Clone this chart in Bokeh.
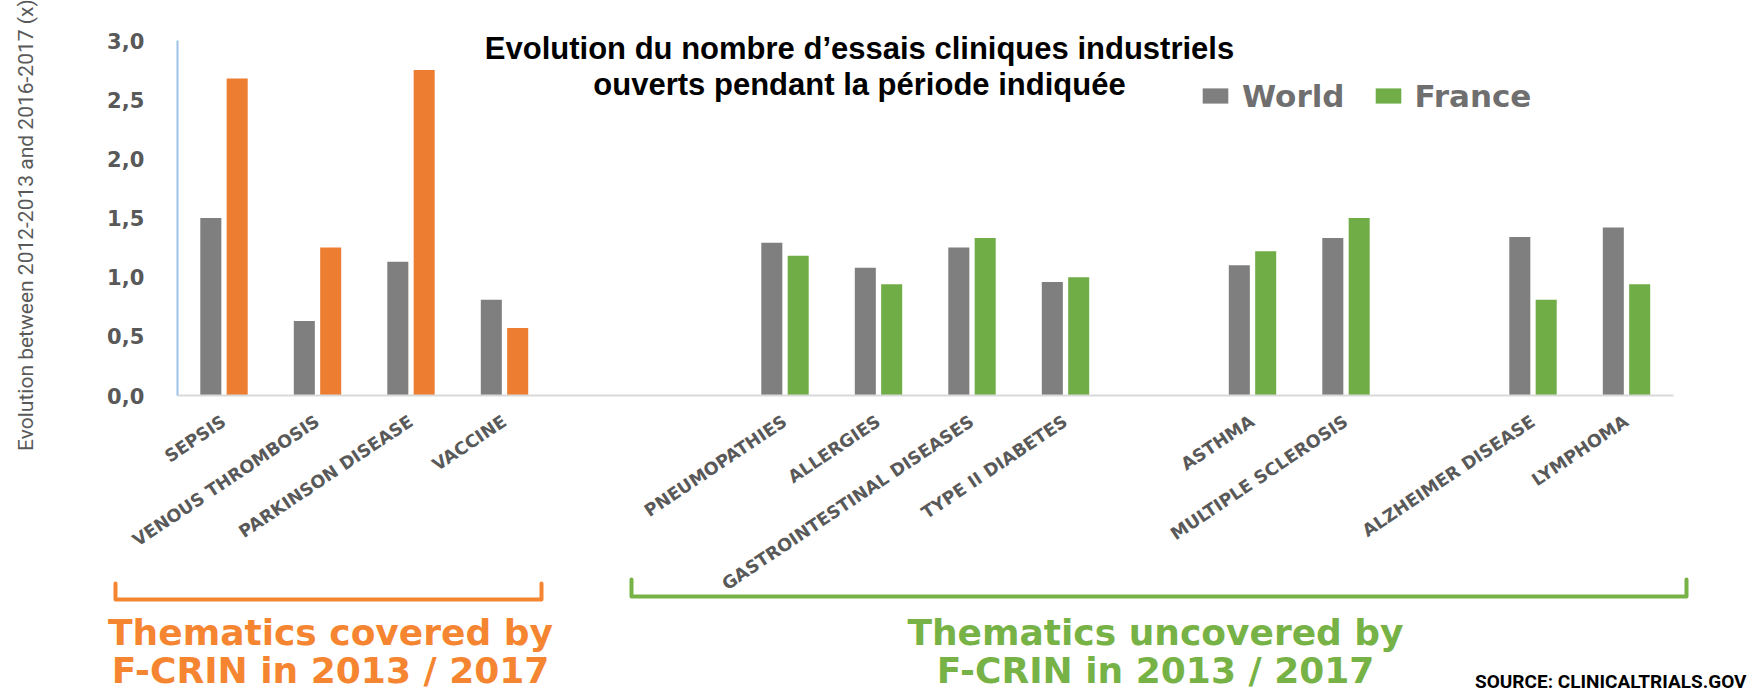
import math
from bokeh.plotting import figure
from bokeh.models import (ColumnDataSource, Range1d, FixedTicker,
                          CustomJSTickFormatter, Legend, LegendItem, Label)
from bokeh.transform import dodge
from bokeh.embed import file_html
from bokeh.resources import INLINE

# ---------------- data ----------------
covered_categories = ["SEPSIS", "VENOUS THROMBOSIS", "PARKINSON DISEASE", "VACCINE"]
covered_world = [1.50, 0.63, 1.13, 0.81]
covered_france = [2.68, 1.25, 2.75, 0.57]

uncovered_categories = ["PNEUMOPATHIES", "ALLERGIES", "GASTROINTESTINAL DISEASES",
                        "TYPE II DIABETES", "ASTHMA", "MULTIPLE SCLEROSIS",
                        "ALZHEIMER DISEASE", "LYMPHOMA"]
uncovered_world = [1.29, 1.08, 1.25, 0.96, 1.10, 1.33, 1.34, 1.42]
uncovered_france = [1.18, 0.94, 1.33, 1.00, 1.22, 1.50, 0.81, 0.94]

# category slots on the axis (Excel-style blank categories between groups)
covered_slots = [0, 1, 2, 3]
uncovered_slots = [6, 7, 8, 9, 11, 12, 14, 15]
y_ticks = [0.0, 0.5, 1.0, 1.5, 2.0, 2.5, 3.0]

title_lines = ["Evolution du nombre d\u2019essais cliniques industriels",
               "ouverts pendant la p\u00e9riode indiqu\u00e9e"]
y_title = "Evolution between 2012-2013  and 2016-2017 (x)"
series_names = ["World", "France"]
covered_text = ["Thematics covered by", "F-CRIN in 2013 / 2017"]
uncovered_text = ["Thematics uncovered by", "F-CRIN in 2013 / 2017"]
source_text = "SOURCE: CLINICALTRIALS.GOV"

# ---------------- styles / layout ----------------
GRAY = "#7F7F7F"
ORANGE = "#ED7D31"
GREEN = "#70AD47"
ORANGE_TXT = "#F58530"
GREEN_TXT = "#77B246"
AXIS_TXT = "#595959"

W, H = 1754, 692
SLOT0_PX, SLOT_PX = 223.5, 93.5      # pixel position of first slot, slot width
ZERO_PX, UNIT_PX = 395.0, 118.33     # pixel row of y=0, pixels per unit

def px2x(px):
    return (px - SLOT0_PX) / SLOT_PX

def py2y(py):
    return (ZERO_PX - py) / UNIT_PX

def text_label(txt, px, baseline_py, size, color, font, align="center", bold=True):
    # place a label so that its alphabetic baseline sits at page row baseline_py
    return Label(x=px, y=H - (baseline_py - 0.36 * size), x_units="screen", y_units="screen",
                 text=txt, text_align=align, text_baseline="middle",
                 text_font=font, text_font_style="bold" if bold else "normal",
                 text_font_size=f"{size}px", text_color=color)

BAR_W = 0.225
OFF = 0.141

p = figure(width=W, height=H,
           min_border_left=0, min_border_right=0, min_border_top=0, min_border_bottom=0,
           x_range=Range1d(px2x(0), px2x(W)), y_range=Range1d(py2y(H), py2y(0)),
           output_backend="svg", toolbar_location=None,
           background_fill_color="white", border_fill_color="white")
p.outline_line_color = None
p.xgrid.visible = False
p.ygrid.visible = False

cov = ColumnDataSource(dict(slot=covered_slots, world=covered_world, france=covered_france))
unc = ColumnDataSource(dict(slot=uncovered_slots, world=uncovered_world, france=uncovered_france))

w1 = p.vbar(x=dodge("slot", -OFF), top="world", width=BAR_W, source=cov,
            fill_color=GRAY, line_color=None)
f1 = p.vbar(x=dodge("slot", OFF), top="france", width=BAR_W, source=cov,
            fill_color=ORANGE, line_color=None)
w2 = p.vbar(x=dodge("slot", -OFF), top="world", width=BAR_W, source=unc,
            fill_color=GRAY, line_color=None)
f2 = p.vbar(x=dodge("slot", OFF), top="france", width=BAR_W, source=unc,
            fill_color=GREEN, line_color=None)

all_slots = covered_slots + uncovered_slots
x_lo, x_hi = min(all_slots) - 0.5, max(all_slots) + 0.5

# ---------------- axes ----------------
xa = p.xaxis[0]
xa.fixed_location = 0
xa.bounds = (x_lo, x_hi)
xa.ticker = FixedTicker(ticks=all_slots)
xa.major_label_overrides = {s: c for s, c in zip(all_slots,
                                                  covered_categories + uncovered_categories)}
xa.major_label_orientation = 0.59
xa.major_tick_line_color = None
xa.minor_tick_line_color = None
xa.axis_line_color = "#D9D9D9"
xa.axis_line_width = 2
xa.major_label_text_font = "DejaVu Sans"
xa.major_label_text_font_style = "bold"
xa.major_label_text_font_size = "17.5px"
xa.major_label_text_color = AXIS_TXT
xa.major_label_standoff = 18

ya = p.yaxis[0]
ya.fixed_location = x_lo
ya.bounds = (y_ticks[0], y_ticks[-1])
ya.ticker = FixedTicker(ticks=y_ticks)
ya.formatter = CustomJSTickFormatter(code="return tick.toFixed(1).replace('.', ',');")
ya.major_tick_line_color = None
ya.minor_tick_line_color = None
ya.axis_line_color = "#9DC3E6"
ya.axis_line_width = 2
ya.major_label_text_font = "DejaVu Sans"
ya.major_label_text_font_style = "bold"
ya.major_label_text_font_size = "21px"
ya.major_label_text_color = AXIS_TXT
ya.major_label_standoff = 27

# y-axis title (drawn as a rotated label so it can sit at the page edge)
p.add_layout(Label(x=25, y=H - 222, x_units="screen", y_units="screen", text=y_title,
                   angle=math.pi / 2, text_align="center", text_baseline="middle",
                   text_font="Liberation Sans Narrow, Roboto", text_font_size="21px",
                   text_color=AXIS_TXT))

# ---------------- legend ----------------
legend = Legend(items=[LegendItem(label=series_names[0], renderers=[w1]),
                       LegendItem(label=series_names[1], renderers=[f2])],
                orientation="horizontal", location=(1199, H - 113.5),
                padding=0, margin=0, spacing=27, label_standoff=11,
                glyph_width=32, glyph_height=19,
                border_line_color=None, background_fill_alpha=0,
                label_text_font="DejaVu Sans", label_text_font_style="bold",
                label_text_font_size="31px", label_text_color="#6F6F6F")
p.add_layout(legend)

# ---------------- title ----------------
for txt, py in zip(title_lines, [59.5, 95]):
    p.add_layout(text_label(txt, 859, py, 31, "black", "Liberation Sans"))

# ---------------- brackets & group captions ----------------
def bracket(px0, px1, pytop, pybot, color):
    xs = [px2x(px0), px2x(px0), px2x(px1), px2x(px1)]
    ys = [py2y(pytop), py2y(pybot), py2y(pybot), py2y(pytop)]
    p.line(xs, ys, line_color=color, line_width=4, line_join="round", line_cap="round")

bracket(115, 541, 583, 599, ORANGE_TXT)
bracket(631, 1686, 579, 596, GREEN_TXT)

for txt, py in zip(covered_text, [645, 683]):
    p.add_layout(text_label(txt, 330, py, 36, ORANGE_TXT, "DejaVu Sans"))
for txt, py in zip(uncovered_text, [645, 683]):
    p.add_layout(text_label(txt, 1155, py, 36, GREEN_TXT, "DejaVu Sans"))

p.add_layout(text_label(source_text, 1746, 688, 19, "black",
                        "Liberation Sans Narrow, Roboto", align="right"))

open("out.html", "w").write(file_html(p, INLINE))
